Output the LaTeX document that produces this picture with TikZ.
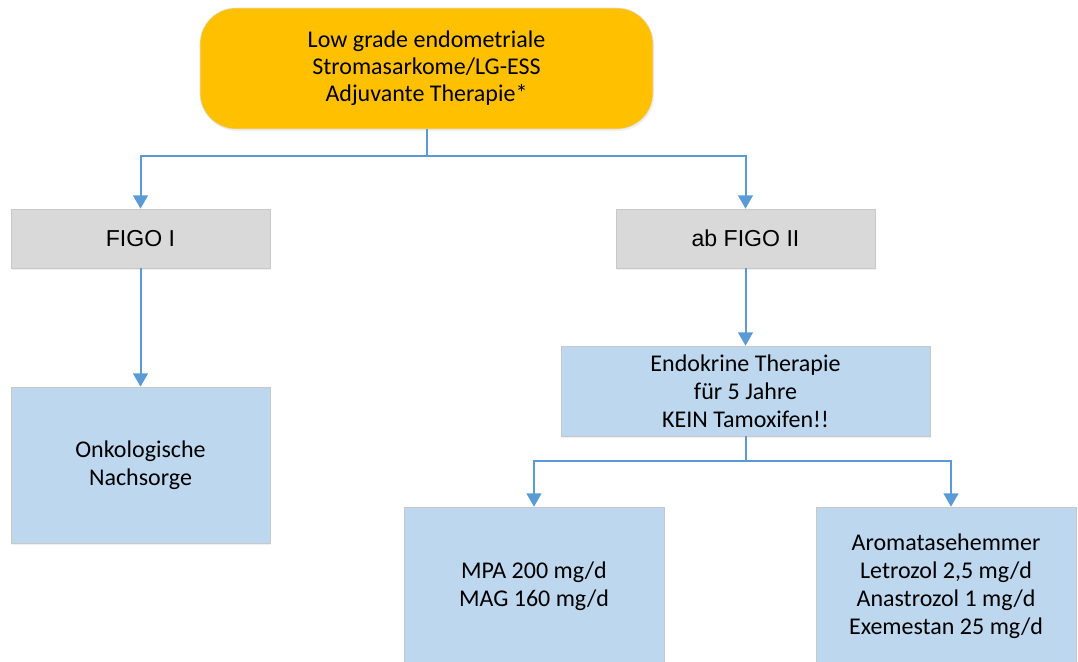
\documentclass[tikz,border=0pt]{standalone}
\usepackage{fontspec}
\setmainfont{Carlito}
\newfontfamily\stagefont{Liberation Sans}
\usetikzlibrary{positioning,calc,arrows.meta,shadows}
\definecolor{headorange}{HTML}{FFC000}
\definecolor{stagegray}{HTML}{D9D9D9}
\definecolor{edgegray}{HTML}{C8C8C8}
\definecolor{therapyblue}{HTML}{BDD7EE}
\definecolor{linkblue}{HTML}{5B9BD5}
\tikzset{
    head/.style={
        draw=edgegray!60,
        fill=headorange,
        rectangle,
        rounded corners=27pt,
        align=center,
        minimum width=339.75pt,
        minimum height=90.75pt,
        font=\fontsize{18}{20.3}\selectfont,
        drop shadow={opacity=0.12,shadow xshift=1pt,shadow yshift=-1.5pt}
    },
    stage/.style={
        draw=edgegray,
        fill=stagegray,
        rectangle,
        minimum width=194.25pt,
        minimum height=44.25pt,
        font=\stagefont\fontsize{17.3}{21}\selectfont,
        drop shadow={opacity=0.12,shadow xshift=1pt,shadow yshift=-1.5pt}
    },
    therapy/.style={
        draw=edgegray,
        fill=therapyblue,
        rectangle,
        align=center,
        font=\fontsize{18}{21}\selectfont,
        drop shadow={opacity=0.12,shadow xshift=1pt,shadow yshift=-1.5pt}
    },
    link/.style={
        draw=linkblue,
        line width=1.5pt,
        -{Triangle[width=11pt,length=10pt]}
    },
}
\begin{document}
\begin{tikzpicture}[x=0.75pt, y=-0.75pt]
    \useasboundingbox (0,0) rectangle (1078,661);
    \clip (0,0) rectangle (1078,661);

    \node[head] (head) at (426.5,68.5) {Low grade endometriale\\Stromasarkome/LG-ESS\\Adjuvante Therapie*};
    \node[stage] (figoone) at (140.5,238.5) {FIGO I};
    \node[stage] (figotwo) at (745.5,238.5) {ab FIGO II};
    \node[therapy, minimum width=194.25pt, minimum height=117pt] (aftercare) at (140.5,465) {Onkologische\\Nachsorge};
    \node[therapy, minimum width=276.75pt, minimum height=67.5pt] (endocrine) at (745.5,391) {Endokrine Therapie\\für 5 Jahre\\KEIN Tamoxifen!!};
    \node[therapy, minimum width=195pt, minimum height=118.5pt] (progestin) at (534,586) {MPA 200 mg/d\\MAG 160 mg/d};
    \node[therapy, minimum width=195pt, minimum height=118.5pt] (aromatase) at (946,586) {Aromatasehemmer\\Letrozol 2,5 mg/d\\Anastrozol 1 mg/d\\Exemestan 25 mg/d};

    % stage split
    \draw[link] (head.south) -- ++(0,26.5) -| (figoone.north);
    \draw[link] (head.south) -- ++(0,26.5) -| (figotwo.north);
    \draw[link] (figoone.south) -- (aftercare.north);
    \draw[link] (figotwo.south) -- (endocrine.north);
    % drug split
    \draw[link] (endocrine.south) -- ++(0,25) -| (progestin.north);
    \draw[link] (endocrine.south) -- ++(0,25) -| ([xshift=3.75pt]aromatase.north);
\end{tikzpicture}
\end{document}
